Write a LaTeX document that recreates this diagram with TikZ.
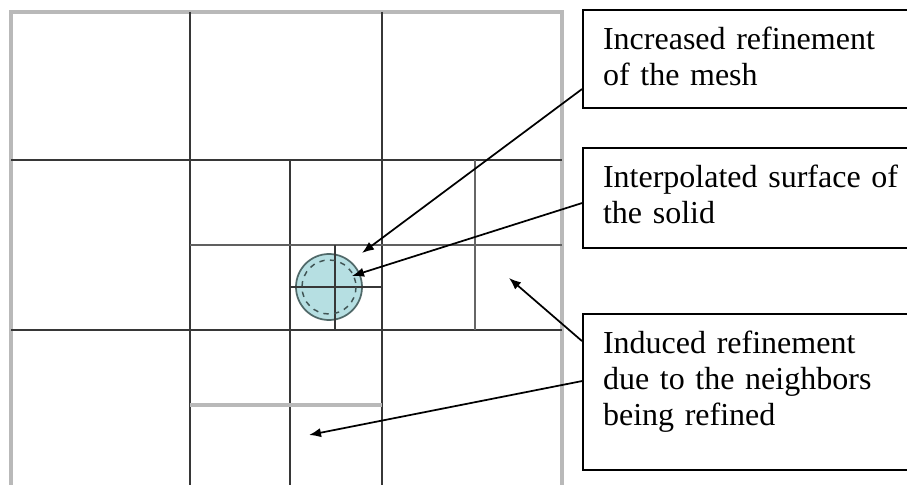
\documentclass[tikz,border=0pt]{standalone}
\usepackage{fontspec}
\setmainfont{Liberation Serif}
\usepackage{tikz}
\usetikzlibrary{arrows.meta}
\definecolor{solidfill}{RGB}{182,223,226}
\definecolor{solidline}{RGB}{80,105,105}
\definecolor{meshline}{RGB}{55,55,55}

\begin{document}
\begin{tikzpicture}[
  x=0.75pt,y=-0.75pt,
  note/.style={draw,line width=1.6pt,anchor=north west,align=left,
              font=\fontsize{24}{27}\selectfont,text width=235pt,
              inner xsep=15pt,inner ysep=0pt,text height=29.25pt},
  mesh/.style={meshline,line width=1.4pt},
  pale/.style={gray!55,line width=2.4pt},
  arr/.style={-{Latex[length=9pt,width=7pt]},line width=1.3pt}
]
\useasboundingbox (0,0) rectangle (907,485);

% outer frame (open at the bottom)
\draw[pale,line width=3pt] (11,485) -- (11,12) -- (562,12) -- (562,485);

% the solid
\filldraw[fill=solidfill,draw=solidline,line width=1.3pt] (329,287) circle (33);

% coarse mesh
\draw[mesh] (11,160) -- (562,160);
\draw[mesh] (11,330) -- (562,330);
\draw[mesh] (190,12) -- (190,485);
\draw[mesh] (382,12) -- (382,485);
% refined cells
\draw[mesh] (290,160) -- (290,485);
\draw[mesh,gray!75!black,line width=1.8pt] (190,245) -- (562,245);
\draw[mesh,gray!80!black] (475,160) -- (475,330);
\draw[pale] (190,405) -- (382,405);
\draw[mesh] (290,287) -- (382,287);
\draw[mesh] (335,245) -- (335,330);

\draw[solidline!80!black,line width=1.1pt,dash pattern=on 4pt off 4pt] (329,287) circle (27);

% labels
\node[note,text depth=44.25pt] (incr) at (582,9)
  {Increased refinement\\of the mesh};
\node[note,text depth=45.75pt] (surf) at (582,147)
  {Interpolated surface of\\the solid};
\node[note,text depth=87.75pt] (induc) at (582,313)
  {Induced refinement\\due to the neighbors\\being refined};

\coordinate (tipincr) at (362,253);
\coordinate (tipsurf) at (352,276);
\coordinate (tipright) at (509,278);
\coordinate (tipbelow) at (309,435);

\draw[arr] ([yshift=-22.5pt]incr.west) -- (tipincr);
\draw[arr] ([yshift=-3.75pt]surf.west) -- (tipsurf);
\draw[arr] ([yshift=38.25pt]induc.west) -- (tipright);
\draw[arr] ([yshift=8.25pt]induc.west) -- (tipbelow);
\end{tikzpicture}
\end{document}
